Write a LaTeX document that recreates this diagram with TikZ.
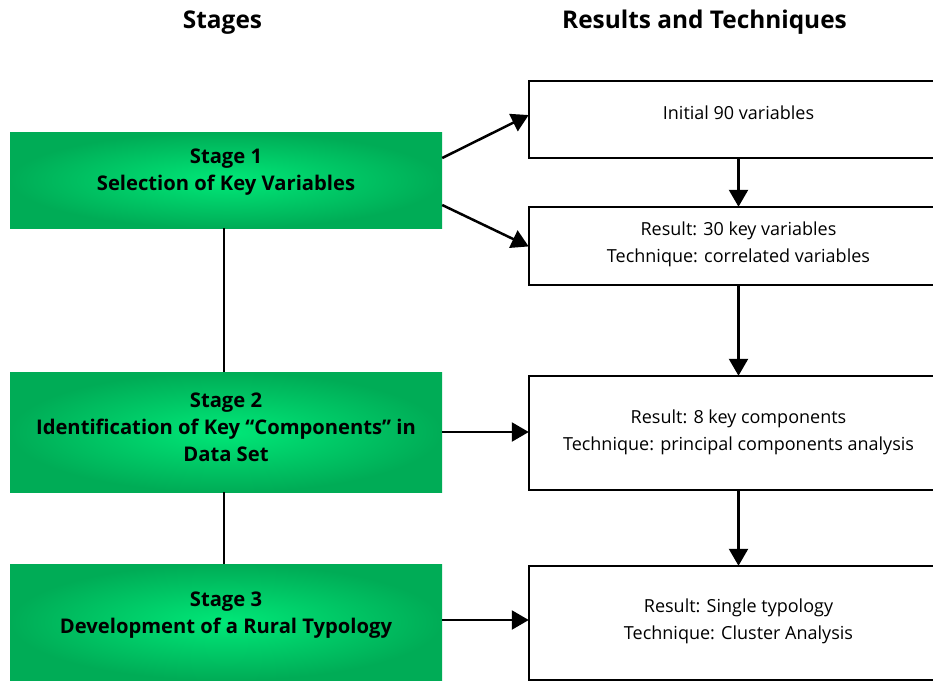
\documentclass[tikz,border=0pt]{standalone}
\usepackage{fontspec}
\setmainfont{Open Sans}
\usetikzlibrary{arrows.meta,shadings}
\definecolor{gin}{RGB}{0,232,120}
\definecolor{gout}{RGB}{0,172,86}
\tikzset{
  stagebox/.style={rectangle, inner sep=0pt, minimum width=432pt,
    inner color=gin, outer color=gout,
    font=\bfseries\fontsize{20.2}{27}\selectfont},
  resbox/.style={rectangle, draw=black, line width=2.5pt, fill=white,
    inner sep=0pt, minimum width=419pt,
    font=\fontsize{18}{27}\selectfont},
  conn/.style={line width=2.5pt},
  vline/.style={line width=2.2pt},
  arr/.style={conn, -{Triangle[length=17pt,width=19pt]}, shorten >=-1pt},
  title/.style={anchor=base, inner sep=0pt, font=\bfseries\fontsize{24.4}{28}\selectfont}
}
\newcommand{\rtxt}[2][0pt]{\raisebox{#1}[\height][\depth]{\begin{tabular}{@{}c@{}}#2\end{tabular}}}
\begin{document}
\begin{tikzpicture}[x=1pt,y=-1pt]
\clip (0,0) rectangle (933,681);
\fill[white] (0,0) rectangle (933,681);

\node[title] (t1) at (222.5,28.5) {Stages};
\node[title] (t2) at (704.5,28.5) {Results and Techniques};

\node[stagebox, minimum height=96pt] (g1) at (226,180)
  {\rtxt[8pt]{Stage 1\\Selection of Key Variables}};
\node[stagebox, minimum height=120pt] (g2) at (226,432)
  {\rtxt[3pt]{Stage 2\\Identification of Key “Components” in\\Data Set}};
\node[stagebox, minimum height=116pt] (g3) at (226,622)
  {\rtxt[7.5pt]{Stage 3\\Development of a Rural Typology}};

\node[resbox, minimum height=77pt] (r1) at (738.5,119.5)
  {\rtxt[5pt]{Initial 90 variables}};
\node[resbox, minimum height=78pt] (r2) at (738.5,246)
  {\rtxt[2pt]{Result: 30 key variables\\Technique: correlated variables}};
\node[resbox, minimum height=114pt] (r3) at (738.5,433)
  {\rtxt[1pt]{Result: 8 key components\\Technique: principal components analysis}};
\node[resbox, minimum height=114pt] (r4) at (738.5,623)
  {\rtxt[2.5pt]{Result: Single typology\\Technique: Cluster Analysis}};

\draw[vline] ([xshift=-2pt]g1.south) -- ([xshift=-2pt]g2.north);
\draw[vline] ([xshift=-2pt]g2.south) -- ([xshift=-2pt]g3.north);

\draw[arr] ([yshift=22pt]g1.east) -- ([yshift=4pt]r1.west);
\draw[arr] ([yshift=-25pt]g1.east) -- (r2.west);
\draw[arr] (g2.east) -- (g2.east -| r3.west);
\draw[arr] ([yshift=2pt]g3.east) -- ([yshift=2pt]g3.east -| r4.west);

\draw[arr] (r1.south) -- (r2.north);
\draw[arr] (r2.south) -- (r3.north);
\draw[arr] (r3.south) -- (r4.north);
\end{tikzpicture}
\end{document}
